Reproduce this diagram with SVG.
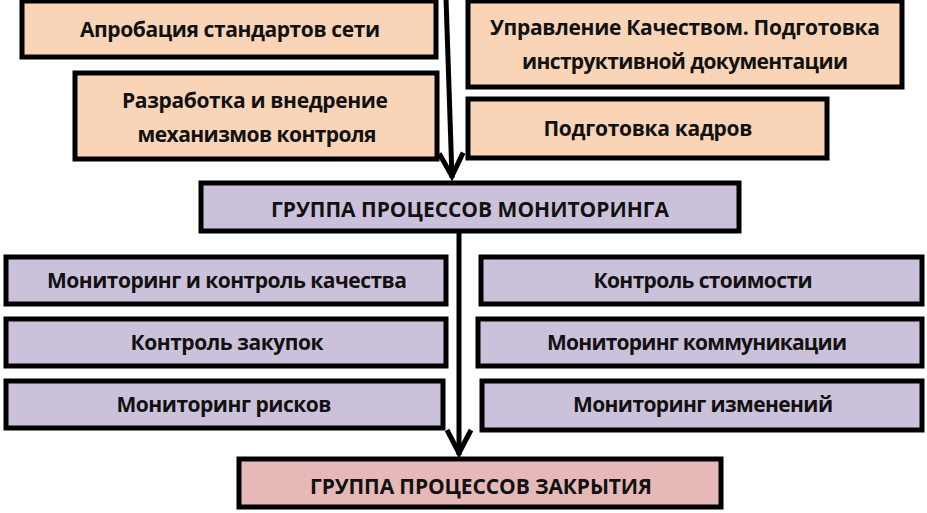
<svg xmlns="http://www.w3.org/2000/svg" width="927" height="513" viewBox="0 0 927 513">
<style>
.box{stroke:#000;stroke-width:5;stroke-linejoin:miter}
.or{fill:#F9D4B6}
.lv{fill:#CCC1DA}
.pk{fill:#E6B9B8}
text{font-family:"Open Sans","Noto Sans","DejaVu Sans",sans-serif;font-weight:bold;font-size:21px;fill:#111;text-anchor:middle}
.con{stroke:#000;stroke-width:5;fill:none}
</style>
<defs>
<marker id="chev" markerUnits="userSpaceOnUse" markerWidth="40" markerHeight="40" refX="0" refY="0" orient="auto" overflow="visible">
<path d="M-25,-12 L-2,0 L-25,12" fill="none" stroke="#000" stroke-width="5" stroke-linejoin="miter"/>
</marker>
</defs>
<rect width="927" height="513" fill="#fff"/>
<g id="connectors">
<path class="con" d="M446,-2 L452,178" marker-end="url(#chev)"/>
<path class="con" d="M459,232 L459,455" marker-end="url(#chev)"/>
</g>
<g id="n1"><rect class="box or" x="22" y="1" width="414" height="56"/><text x="230" y="37" textLength="300">Апробация стандартов сети</text></g>
<g id="n2"><rect class="box or" x="75" y="73" width="362" height="86"/><text x="255" y="108" textLength="266">Разработка и внедрение</text><text x="257" y="142" textLength="239">механизмов контроля</text></g>
<g id="n3"><rect class="box or" x="468" y="1" width="434" height="86"/><text x="685" y="35" textLength="390">Управление Качеством. Подготовка</text><text x="685" y="69" textLength="326">инструктивной документации</text></g>
<g id="n4"><rect class="box or" x="468" y="99" width="359" height="59"/><text x="648" y="136" textLength="209">Подготовка кадров</text></g>
<g id="monitoring"><rect class="box lv" x="201" y="183" width="538" height="48"/><text x="470" y="217" textLength="398">ГРУППА ПРОЦЕССОВ МОНИТОРИНГА</text></g>
<g id="l1"><rect class="box lv" x="6" y="257" width="440" height="47"/><text x="227" y="288" textLength="360">Мониторинг и контроль качества</text></g>
<g id="l2"><rect class="box lv" x="6" y="319" width="440" height="47"/><text x="227" y="350" textLength="193">Контроль закупок</text></g>
<g id="l3"><rect class="box lv" x="6" y="381" width="437" height="47"/><text x="224" y="412" textLength="215">Мониторинг рисков</text></g>
<g id="r1"><rect class="box lv" x="481" y="257" width="441" height="47"/><text x="703" y="288" textLength="219">Контроль стоимости</text></g>
<g id="r2"><rect class="box lv" x="478" y="319" width="444" height="47"/><text x="697" y="350" textLength="300">Мониторинг коммуникации</text></g>
<g id="r3"><rect class="box lv" x="482" y="381" width="440" height="49"/><text x="703" y="412" textLength="260">Мониторинг изменений</text></g>
<g id="closing"><rect class="box pk" x="239" y="459" width="482" height="48"/><text x="481" y="494" textLength="342">ГРУППА ПРОЦЕССОВ ЗАКРЫТИЯ</text></g>
</svg>
